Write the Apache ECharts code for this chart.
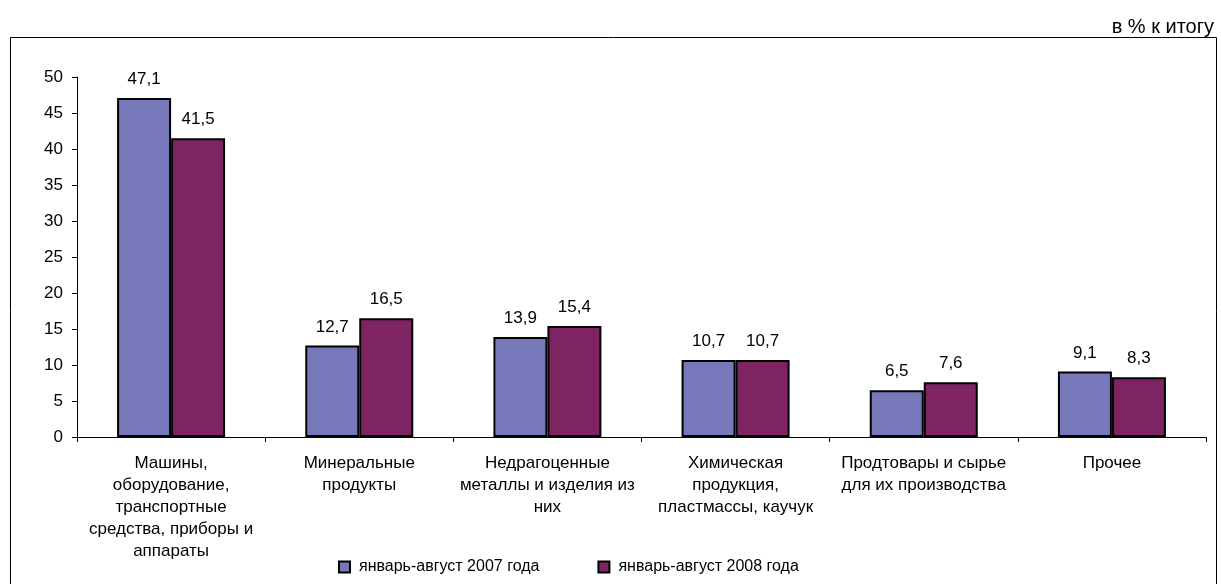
<!DOCTYPE html>
<html>
<head>
<meta charset="utf-8">
<script src="https://cdn.jsdelivr.net/npm/echarts@6/dist/echarts.min.js"></script>
<style>
  html, body { margin: 0; padding: 0; background: #fff; }
  #chart { width: 1221px; height: 584px; }
</style>
</head>
<body>
<div id="chart"></div>
<script>
// Commodity groups (line breaks as laid out under the axis)
const categories = [
  'Машины,\nоборудование,\nтранспортные\nсредства, приборы и\nаппараты',
  'Минеральные\nпродукты',
  'Недрагоценные\nметаллы и изделия из\nних',
  'Химическая\nпродукция,\nпластмассы, каучук',
  'Продтовары и сырье\nдля их производства',
  'Прочее'
];
const seriesNames = ['январь-август 2007 года', 'январь-август 2008 года'];
const values2007 = [47.1, 12.7, 13.9, 10.7, 6.5, 9.1];
const values2008 = [41.5, 16.5, 15.4, 10.7, 7.6, 8.3];
const yTicks = { min: 0, max: 50, interval: 5 };
const unitNote = 'в % к итогу';

const FONT = 'Liberation Sans, Arial, sans-serif';
const colors = ['#7778B9', '#7E2462'];

const chart = echarts.init(document.getElementById('chart'), null, { renderer: 'canvas' });

const labelCfg = {
  show: true,
  position: 'top',
  distance: 10,
  color: '#000',
  fontFamily: FONT,
  fontSize: 17,
  formatter: p => String(p.value).replace('.', ',')
};

chart.setOption({
  animation: false,
  backgroundColor: '#fff',
  textStyle: { fontFamily: FONT },
  graphic: [
    {
      type: 'rect',
      shape: { x: 10.5, y: 37.5, width: 1206, height: 560 },
      style: { fill: 'none', stroke: '#000', lineWidth: 1 },
      silent: true
    },
    {
      type: 'text',
      right: 7,
      top: 17,
      style: { text: unitNote, font: '20px ' + FONT, fill: '#000' }
    }
  ],
  grid: { left: 77, right: 15, top: 77, bottom: 147, containLabel: false },
  legend: {
    left: 333,
    top: 554,
    itemWidth: 11,
    itemHeight: 11,
    itemGap: 58,
    icon: 'rect',
    textStyle: { fontFamily: FONT, fontSize: 16, color: '#000', padding: [0, 0, 0, 4] },
    itemStyle: { borderColor: '#000', borderWidth: 2 },
    data: seriesNames
  },
  xAxis: {
    type: 'category',
    data: categories,
    axisLine: { lineStyle: { color: '#000', width: 1 } },
    axisTick: { show: true, length: 5, lineStyle: { color: '#000' } },
    axisLabel: {
      interval: 0,
      color: '#000',
      fontFamily: FONT,
      fontSize: 17,
      lineHeight: 22,
      margin: 15
    }
  },
  yAxis: {
    type: 'value',
    min: yTicks.min,
    max: yTicks.max,
    interval: yTicks.interval,
    axisLine: { show: true, lineStyle: { color: '#000', width: 1 } },
    axisTick: { show: true, length: 5, lineStyle: { color: '#000' } },
    splitLine: { show: false },
    axisLabel: { color: '#000', fontFamily: FONT, fontSize: 17, margin: 14 }
  },
  series: [
    {
      name: seriesNames[0],
      type: 'bar',
      data: values2007,
      barWidth: 54,
      barGap: '0%',
      itemStyle: { color: colors[0], borderColor: '#000', borderWidth: 2 },
      label: labelCfg
    },
    {
      name: seriesNames[1],
      type: 'bar',
      data: values2008,
      barWidth: 54,
      barGap: '0%',
      itemStyle: { color: colors[1], borderColor: '#000', borderWidth: 2 },
      label: labelCfg
    }
  ]
});
</script>
</body>
</html>
